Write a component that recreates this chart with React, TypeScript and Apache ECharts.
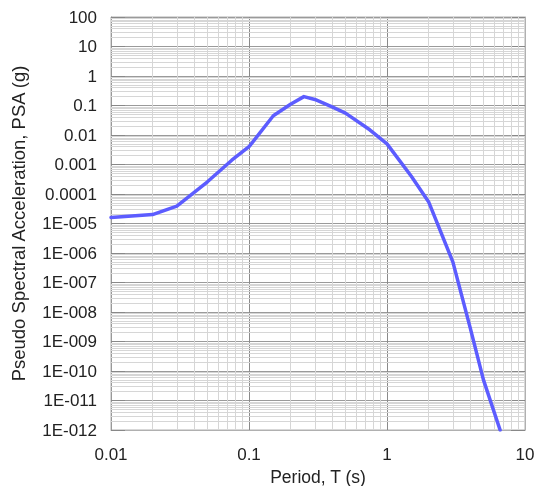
import React, { useEffect, useRef } from "react";
import * as echarts from "echarts";

const periods = [0.01, 0.02, 0.03, 0.05, 0.075, 0.1, 0.15, 0.2, 0.25, 0.3, 0.4, 0.5, 0.75, 1, 1.5, 2, 3, 4, 5, 6.6];
const psa = [1.6e-5, 2.0e-5, 3.9e-5, 2.6e-4, 1.4e-3, 4.0e-3, 4.5e-2, 0.11, 0.2, 0.16, 0.09, 0.055, 0.015, 5.0e-3, 4.0e-4, 5.5e-5, 5.0e-7, 3e-9, 5e-11, 1e-12];

const xDecades = [0.01, 0.1, 1];
const yDecades = [1e-12, 1e-11, 1e-10, 1e-9, 1e-8, 1e-7, 1e-6, 1e-5, 1e-4, 1e-3, 1e-2, 1e-1, 1, 10];
const minorMultipliers = [2, 3, 4, 5, 6, 7, 8, 9];
const xRange = [0.01, 10];
const yRange = [1e-12, 100];

const xTitle = "Period, T (s)";
const yTitle = "Pseudo Spectral Acceleration, PSA (g)";

function fmt(v: number): string {
  const e = Math.round(Math.log10(v));
  if (e >= 0) return String(Math.pow(10, e));
  if (e >= -4) return "0." + "0".repeat(-e - 1) + "1";
  return "1E-" + String(-e).padStart(3, "0");
}

export default function App() {
  const ref = useRef<HTMLDivElement>(null);
  useEffect(() => {
    if (!ref.current) return;
    const chart = echarts.init(ref.current, null, { renderer: "svg" });
    const xMinor: number[] = [];
    xDecades.forEach((d) => minorMultipliers.forEach((m) => xMinor.push(d * m)));
    const yMinor: number[] = [];
    yDecades.forEach((d) => minorMultipliers.forEach((m) => yMinor.push(d * m)));
    const font = "'Liberation Sans', Arial, sans-serif";
    const minorLines = [
      ...xMinor.map((v) => [{ coord: [v, yRange[0]] }, { coord: [v, yRange[1]] }]),
      ...yMinor.map((v) => [{ coord: [xRange[0], v] }, { coord: [xRange[1], v] }]),
    ];
    chart.setOption({
      animation: false,
      grid: {
        left: 111, right: 11, top: 17, bottom: 56,
        outerBoundsMode: "none", containLabel: false,
        show: true, borderColor: "#b0b0b0", borderWidth: 1,
      },
      xAxis: {
        type: "log",
        logBase: 10,
        min: xRange[0],
        max: xRange[1],
        interval: 1,
        name: xTitle,
        nameLocation: "middle",
        nameGap: 28,
        nameTextStyle: { fontFamily: font, fontSize: 17.5, color: "#222", lineHeight: 18 },
        axisLine: { show: true, lineStyle: { color: "#b0b0b0" } },
        axisTick: { show: false },
        axisLabel: { formatter: fmt, fontFamily: font, fontSize: 17, color: "#222", margin: 16 },
        splitLine: { show: true, lineStyle: { color: "#8a8a8a", width: 1 } },
      },
      yAxis: [
        {
          type: "log",
          logBase: 10,
          min: yRange[0],
          max: yRange[1],
          interval: 1,
          name: yTitle,
          nameLocation: "middle",
          nameGap: 83,
          nameTextStyle: { fontFamily: font, fontSize: 18.5, color: "#222" },
          axisLine: { show: true, lineStyle: { color: "#999" } },
          axisTick: { show: true, inside: true, length: 14, lineStyle: { color: "#888" } },
          axisLabel: { formatter: fmt, fontFamily: font, fontSize: 17, color: "#222", margin: 14 },
          splitLine: { show: true, lineStyle: { color: "#9a9a9a", width: 1 } },
        },
        {
          type: "log",
          logBase: 10,
          min: yRange[0],
          max: yRange[1],
          interval: 1,
          position: "right",
          axisLine: { show: true, lineStyle: { color: "#b0b0b0" } },
          axisTick: { show: true, inside: true, length: 14, lineStyle: { color: "#888" } },
          axisLabel: { show: false },
          splitLine: { show: false },
        },
      ],
      series: [
        {
          type: "line",
          data: [],
          z: 1,
          silent: true,
          markLine: {
            silent: true,
            symbol: ["none", "none"],
            label: { show: false },
            lineStyle: { color: "#d6d6d6", width: 1, type: "solid" },
            emphasis: { disabled: true },
            data: minorLines,
          },
        },
        {
          type: "line",
          data: periods.map((t, i) => [t, psa[i]]),
          showSymbol: false,
          symbol: "none",
          z: 5,
          lineStyle: { color: "#5c5cff", width: 3.5, cap: "round", join: "round" },
        },
      ],
    });
    return () => chart.dispose();
  }, []);
  return <div ref={ref} style={{ position: "fixed", left: 0, top: 0, width: 536, height: 486 }} />;
}
